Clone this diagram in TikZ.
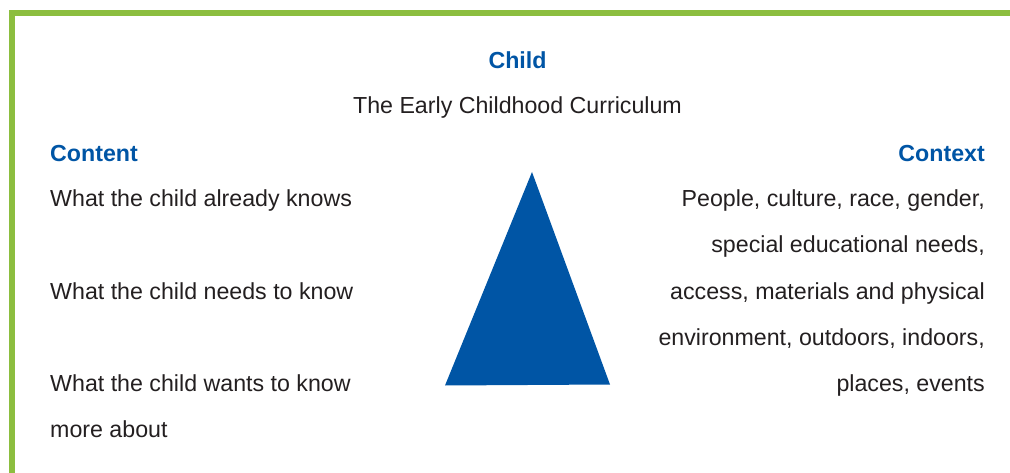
\documentclass[tikz,border=0pt]{standalone}
\usepackage{fontspec}
\setmainfont{Liberation Sans}
\definecolor{framegreen}{HTML}{8CBE3F}
\definecolor{titleblue}{HTML}{0055A5}
\definecolor{bodytext}{HTML}{231F20}
\tikzset{
  body/.style={inner sep=0pt, text=bodytext, font=\fontsize{23.2}{28}\selectfont},
  head/.style={inner sep=0pt, text=titleblue, font=\fontsize{23.2}{28}\selectfont\bfseries},
}
\begin{document}
\begin{tikzpicture}[x=1pt,y=-1pt]
\useasboundingbox (0,0) rectangle (1010,473);
% frame
\fill[framegreen] (9,10) rectangle (1010,16);
\fill[framegreen] (9,10) rectangle (15,473);
% triangle
\fill[titleblue] (532,172) -- (610,384.5) -- (445,385.5) -- cycle;
% titles
\node[head, anchor=base] (child) at (517.5,68.5) {Child};
\node[body, anchor=base] (curr) at (517.5,113.5) {The Early Childhood Curriculum};
\node[head, anchor=base west] (content) at (50,161.5) {Content};
\node[head, anchor=base east] (context) at (985,161.5) {Context};
% left column
\node[body, anchor=base west] (l1) at (50,206.5) {What the child already knows};
\node[body, anchor=base west] (l2) at (50,299.5) {What the child needs to know};
\node[body, anchor=base west] (l3) at (50,391.5) {What the child wants to know};
\node[body, anchor=base west] (l4) at (50,437.5) {more about};
% right column
\node[body, anchor=base east] (r1) at (985,206.5) {People, culture, race, gender,};
\node[body, anchor=base east] (r2) at (985,252.5) {special educational needs,};
\node[body, anchor=base east] (r3) at (985,299.5) {access, materials and physical};
\node[body, anchor=base east] (r4) at (985,345.5) {environment, outdoors, indoors,};
\node[body, anchor=base east] (r5) at (985,391.5) {places, events};
\end{tikzpicture}
\end{document}
